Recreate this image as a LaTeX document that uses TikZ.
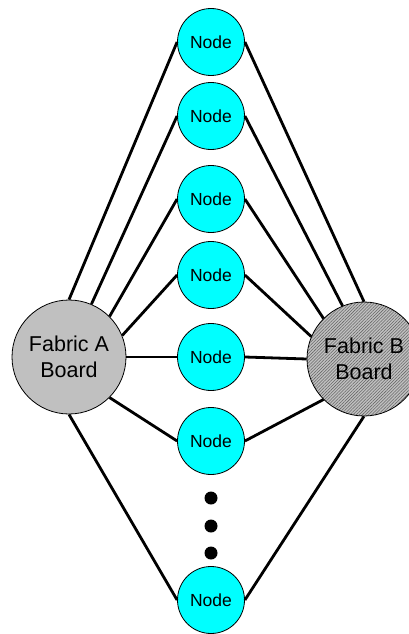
\documentclass[tikz,border=0pt]{standalone}
\usepackage{fontspec}
\setmainfont{Liberation Sans}
\usetikzlibrary{patterns.meta}
\definecolor{nodecyan}{HTML}{00FFFF}
\definecolor{boardgray}{HTML}{C0C0C0}
\definecolor{hatchgray}{HTML}{666666}
\begin{document}
\begin{tikzpicture}[x=1pt,y=-1pt,
  fabric/.style={circle, draw=black, line width=0.8pt, minimum size=114pt,
    inner sep=0pt, align=center, font=\fontsize{21.5}{26.5}\selectfont},
  member/.style={circle, draw=black, fill=nodecyan, line width=0.8pt,
    minimum size=67pt, inner sep=0pt, font=\fontsize{17.5}{20}\selectfont},
  link/.style={line width=2.8pt},
  dot/.style={circle, fill=black, minimum size=13pt, inner sep=0pt}]
\useasboundingbox (0,0) rectangle (409,634);
\clip (0,0) rectangle (409,634);

% switch fabric boards
\node[fabric, fill=boardgray] (A) at (69,357) {Fabric A\\Board};
\node[fabric, preaction={fill=boardgray},
      pattern={Lines[angle=45,distance=2.2pt,line width=0.55pt]},
      pattern color=hatchgray] (B) at (364,359) {};
\node[align=center, font=\fontsize{21.5}{26.5}\selectfont] (Blabel) at (B.center) {Fabric B\\Board};

% member nodes
\node[member] (n1) at (211,42) {Node};
\node[member] (n2) at (211,116) {Node};
\node[member] (n3) at (211,199) {Node};
\node[member] (n4) at (211,275) {Node};
\node[member] (n5) at (211,357) {Node};
\node[member] (n6) at (211,441) {Node};
\node[member] (n7) at (211,600) {Node};

% ellipsis
\node[dot] (d1) at (211,498) {};
\node[dot] (d2) at (211,526) {};
\node[dot] (d3) at (211,553) {};

% links from fabric A
\draw[link] (A.90)   -- (n1.west);
\draw[link] (A.67.5) -- (n2.west);
\draw[link] (A.45)   -- (n3.west);
\draw[link] (A.22.5) -- (n4.west);
\draw[link] (A.0)    -- (n5.west);
\draw[link] (A.315)  -- (n6.west);
\draw[link] (A.270)  -- (n7.west);

% links from fabric B
\draw[link] (B.90)    -- (n1.east);
\draw[link] (B.112.5) -- (n2.east);
\draw[link] (B.135)   -- (n3.east);
\draw[link] (B.157.5) -- (n4.east);
\draw[link] (B.180)   -- (n5.east);
\draw[link] (B.225)   -- (n6.east);
\draw[link] (B.270)   -- (n7.east);
\end{tikzpicture}
\end{document}
